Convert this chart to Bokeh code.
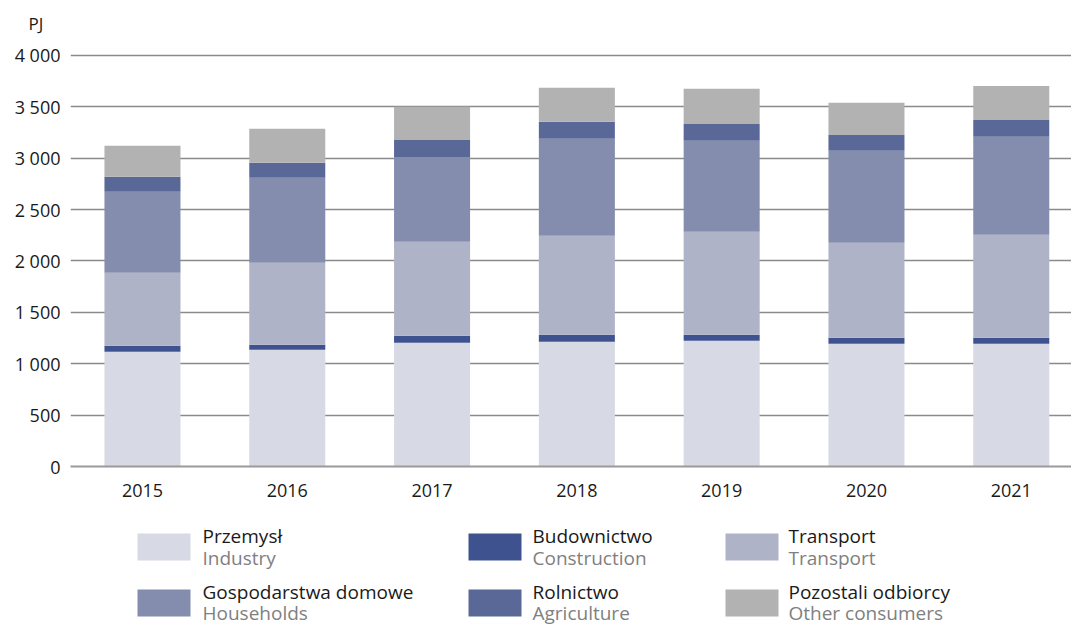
from bokeh.plotting import figure
from bokeh.models import ColumnDataSource, Range1d, FixedTicker
from bokeh.layouts import column
from bokeh.core.properties import value
from bokeh.embed import file_html
from bokeh.resources import INLINE

# ---------------- data ----------------
years = [2015, 2016, 2017, 2018, 2019, 2020, 2021]
industry = [1117, 1136, 1204, 1214, 1224, 1195, 1195]
construction = [58, 49, 68, 68, 58, 58, 58]
transport = [710, 797, 915, 963, 1002, 924, 1002]
households = [788, 827, 826, 944, 885, 895, 953]
agriculture = [146, 146, 165, 165, 165, 155, 165]
other = [302, 331, 322, 333, 343, 312, 331]

series_keys = ["industry", "construction", "transport", "households", "agriculture", "other"]
series_colors = ["#d7dae4", "#3f5290", "#aeb3c7", "#848dad", "#5a6897", "#b2b2b2"]
legend_pl = ["Przemysł", "Budownictwo", "Transport", "Gospodarstwa domowe", "Rolnictwo", "Pozostali odbiorcy"]
legend_en = ["Industry", "Construction", "Transport", "Households", "Agriculture", "Other consumers"]

y_ticks = [0, 500, 1000, 1500, 2000, 2500, 3000, 3500, 4000]
y_tick_labels = ["0", "500", "1 000", "1 500", "2 000", "2 500", "3 000", "3 500", "4 000"]
unit_label = "PJ"

FONT = "Open Sans"
TXT = "#1a1a1a"

source = ColumnDataSource(dict(
    year=years, industry=industry, construction=construction, transport=transport,
    households=households, agriculture=agriculture, other=other))

# ---------------- main chart ----------------
W = 1071
LEFT = 70
p = figure(width=W, height=508, output_backend="svg", toolbar_location=None,
           x_range=Range1d(2014.503, 2021.416), y_range=Range1d(0, 4204),
           min_border_left=LEFT, min_border_right=0, min_border_top=34, min_border_bottom=42,
           title=unit_label)
p.title.align = "left"
p.title.offset = -42
p.title.text_font = FONT
p.title.text_font_size = "17px"
p.title.text_font_style = "normal"
p.title.text_color = TXT
p.title.standoff = 0
p.outline_line_color = None
p.background_fill_color = "white"
p.border_fill_color = "white"

p.vbar_stack(series_keys, x="year", width=0.525, source=source,
             color=series_colors, line_color=None)

p.xgrid.grid_line_color = None
p.ygrid.ticker = FixedTicker(ticks=y_ticks)
p.ygrid.grid_line_color = "#8a8a8a"
p.ygrid.grid_line_width = 1.4

p.yaxis.ticker = FixedTicker(ticks=y_ticks)
p.yaxis.major_label_overrides = {t: s for t, s in zip(y_ticks, y_tick_labels)}
p.yaxis.axis_line_color = None
p.yaxis.major_tick_line_color = None
p.yaxis.minor_tick_line_color = None
p.yaxis.major_label_standoff = 4
p.yaxis.major_label_text_font = FONT
p.yaxis.major_label_text_font_size = "18px"
p.yaxis.major_label_text_color = TXT

p.xaxis.ticker = FixedTicker(ticks=years)
p.xaxis.axis_line_color = "#9a9a9a"
p.xaxis.axis_line_width = 2
p.xaxis.major_tick_line_color = None
p.xaxis.minor_tick_line_color = None
p.xaxis.major_label_standoff = 11
p.xaxis.major_label_text_font = FONT
p.xaxis.major_label_text_font_size = "18px"
p.xaxis.major_label_text_color = TXT

# ---------------- legend ----------------
LH = 116
leg = figure(width=W, height=LH, output_backend="svg", toolbar_location=None,
             x_range=Range1d(LEFT, W), y_range=Range1d(LH, 0),
             min_border_left=LEFT, min_border_right=0,
             min_border_top=0, min_border_bottom=0)
leg.axis.visible = False
leg.grid.visible = False
leg.outline_line_color = None

col_sw = [137, 468, 725]
col_tx = [202, 532, 788]
row_top = [25, 81]
sw_w, sw_h = 53, 27
pl_base = [27, 83]
en_base = [49, 104]

sl, sr, st, sb, sc = [], [], [], [], []
tx, ty_pl, ty_en = [], [], []
for i in range(6):
    r, c = divmod(i, 3)
    sl.append(col_sw[c]); sr.append(col_sw[c] + sw_w)
    st.append(row_top[r]); sb.append(row_top[r] + sw_h)
    sc.append(series_colors[i])
    tx.append(col_tx[c]); ty_pl.append(pl_base[r]); ty_en.append(en_base[r])

leg.quad(left=sl, right=sr, top=st, bottom=sb, color=sc, line_color=None)
leg.text(x=tx, y=ty_pl, text=legend_pl, text_font=value(FONT), text_font_size="19px",
         text_color=TXT, text_baseline="alphabetic", text_align="left")
leg.text(x=tx, y=ty_en, text=legend_en, text_font=value(FONT), text_font_size="19px",
         text_color="#808080", text_baseline="alphabetic", text_align="left")

layout = column(p, leg, spacing=0)
open("out.html", "w").write(file_html(layout, INLINE))
